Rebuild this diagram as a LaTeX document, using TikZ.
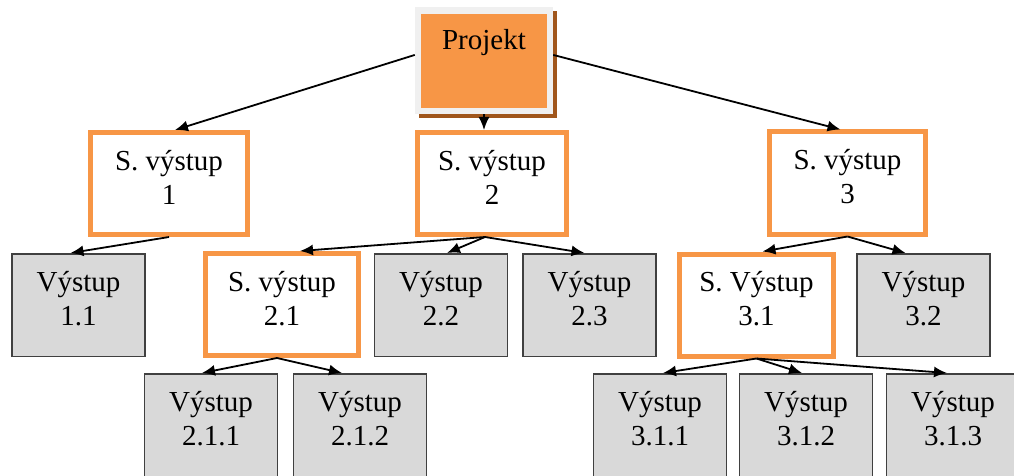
\documentclass[tikz,border=0pt]{standalone}
\usepackage{fontspec}
\setmainfont{Liberation Serif}
\usetikzlibrary{arrows.meta}
\definecolor{wbsorange}{HTML}{F79646}
\definecolor{wbsshadow}{HTML}{A0561C}
\definecolor{wbsframe}{HTML}{F0F0F0}
\definecolor{wbsgrey}{HTML}{D9D9D9}
\definecolor{wbsline}{HTML}{404040}
\begin{document}
\begin{tikzpicture}[x=1pt,y=-1pt,
  wbstext/.style={font=\fontsize{29}{34}\selectfont,align=center,text height=54pt,text depth=13pt},
  top/.style={font=\fontsize{29}{34}\selectfont,fill=wbsorange,draw=wbsframe,line width=6.5pt,
    minimum width=132pt,minimum height=100.5pt,text height=20pt,text depth=42pt,
    preaction={fill=wbsshadow,draw=wbsshadow,transform canvas={shift={(4pt,-4pt)}}}},
  sub/.style={wbstext,draw=wbsorange,line width=5pt,fill=white,minimum height=102pt},
  leaf/.style={wbstext,draw=wbsline,line width=1.5pt,fill=wbsgrey,minimum width=133pt,minimum height=102.5pt},
  link/.style={line width=1.8pt,-{Latex[length=13pt,width=11pt]}}]
  \useasboundingbox (0,0) rectangle (1014,476);
  \clip (0,0) rectangle (1014,476);
  % top level
  \node[top] (proj) at (484,61) {Projekt};
  % sub outputs
  \node[sub,minimum width=157pt] (s1) at (169,183.5) {S. výstup\\1};
  \node[sub,minimum width=149pt] (s2) at (492,183.5) {S. výstup\\2};
  \node[sub,minimum width=156pt] (s3) at (847.5,183) {S. výstup\\3};
  % second row
  \node[leaf] (v11) at (78.5,305) {Výstup\\1.1};
  \node[sub,minimum width=153pt] (s21) at (282,304.5) {S. výstup\\2.1};
  \node[leaf] (v22) at (441,305) {Výstup\\2.2};
  \node[leaf] (v23) at (589.5,305) {Výstup\\2.3};
  \node[sub,minimum width=154pt] (s31) at (756.5,305) {S. Výstup\\3.1};
  \node[leaf] (v32) at (923.5,305) {Výstup\\3.2};
  % third row
  \node[leaf] (v211) at (211,425) {Výstup\\2.1.1};
  \node[leaf] (v212) at (360,425) {Výstup\\2.1.2};
  \node[leaf] (v311) at (660,425) {Výstup\\3.1.1};
  \node[leaf] (v312) at (806,425) {Výstup\\3.1.2};
  \node[leaf] (v313) at (953,425) {Výstup\\3.1.3};
  % links
  \draw[link] (proj.175) -- ([xshift=6pt]s1.north);
  \draw[link] (proj.south) -- (proj.south |- s2.north);
  \draw[link] (proj.5) -- ([xshift=-7pt]s3.north);
  \draw[link] (s1.south) -- ([xshift=-8pt]v11.north);
  \draw[link] ([xshift=-7pt]s2.south) -- ([xshift=18pt]s21.north);
  \draw[link] ([xshift=-7pt]s2.south) -- ([xshift=6pt]v22.north);
  \draw[link] ([xshift=-7pt]s2.south) -- ([xshift=-5pt]v23.north);
  \draw[link] (s3.south) -- ([xshift=6pt]s31.north);
  \draw[link] (s3.south) -- ([xshift=-18pt]v32.north);
  \draw[link] ([xshift=-5pt]s21.south) -- ([xshift=-9pt]v211.north);
  \draw[link] ([xshift=-5pt]s21.south) -- ([xshift=-18pt]v212.north);
  \draw[link] (s31.south) -- ([xshift=3pt]v311.north);
  \draw[link] (s31.south) -- ([xshift=-4pt]v312.north);
  \draw[link] (s31.south) -- ([xshift=-6pt]v313.north);
\end{tikzpicture}
\end{document}
